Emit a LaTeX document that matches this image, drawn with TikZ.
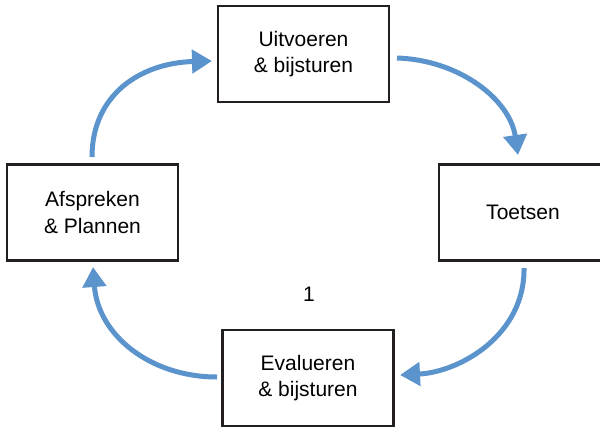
\documentclass[tikz,border=0pt]{standalone}
\usepackage{fontspec}
\setmainfont{Liberation Sans}
\usetikzlibrary{arrows.meta}
\definecolor{cyclearrow}{HTML}{5B93CD}
\definecolor{boxline}{HTML}{231F20}
\tikzset{
  stagebox/.style={draw=boxline, line width=2.2pt, rectangle, minimum height=96pt,
    align=center, font=\fontsize{21}{26.5}\selectfont, inner sep=0pt},
  cyclearc/.style={draw=cyclearrow, line width=5pt,
    -{Triangle[length=20pt,width=23pt]}},
}
\begin{document}
\begin{tikzpicture}[x=1pt,y=-1pt]
  \useasboundingbox (0,0) rectangle (600,426);
  % the four stages of the cycle
  \node[stagebox, minimum width=171pt] (uit) at (303.5,54) {Uitvoeren\\\& bijsturen};
  \node[stagebox, minimum width=168pt] (toets) at (523,212.5) {Toetsen};
  \node[stagebox, minimum width=171pt] (eval) at (308,378) {Evalueren\\\& bijsturen};
  \node[stagebox, minimum width=171pt] (afsp) at (92.5,212.5) {Afspreken\\\& Plannen};
  \node[font=\fontsize{21}{26}\selectfont] (num) at (309,294) {1};
  % arrow end points, set just off the boxes
  \coordinate (a1s) at (92,157);
  \coordinate (a1e) at (212,61);
  \coordinate (a2s) at (397,58);
  \coordinate (a2e) at (518,155);
  \coordinate (a3s) at (524,268);
  \coordinate (a3e) at (400,375);
  \coordinate (a4s) at (217,377);
  \coordinate (a4e) at (93,267);
  % curved arrows around the cycle
  \draw[cyclearc] (a1s) .. controls (92,95) and (140,63) .. (a1e);
  \draw[cyclearc] (a2s) .. controls (460,60) and (510,100) .. (a2e);
  \draw[cyclearc] (a3s) .. controls (525,335) and (460,372) .. (a3e);
  \draw[cyclearc] (a4s) .. controls (150,377) and (98,335) .. (a4e);
\end{tikzpicture}
\end{document}
